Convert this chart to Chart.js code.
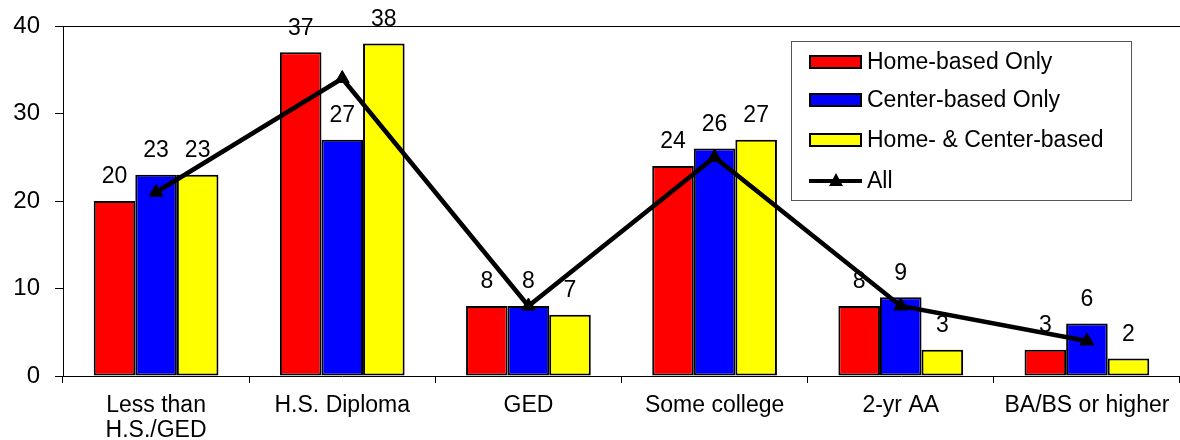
<!DOCTYPE html>
<html>
<head>
<meta charset="utf-8">
<script src="https://cdn.jsdelivr.net/npm/chart.js@4"></script>
<style>
  html, body { margin: 0; padding: 0; background: #fff; overflow: hidden; }
  #wrap { width: 1180px; height: 440px; }
</style>
</head>
<body>
<div id="wrap"><canvas id="eduChart" width="1180" height="440"></canvas></div>
<script>
const categories = [["Less than", "H.S./GED"], "H.S. Diploma", "GED", "Some college", "2-yr AA", "BA/BS or higher"];
const homeOnly = [20, 37, 8, 24, 8, 3];
const centerOnly = [23, 27, 8, 26, 9, 6];
const homeAndCenter = [23, 38, 7, 27, 3, 2];
const allFamilies = [21, 34, 8, 25, 8, 4];
const yTicks = [0, 10, 20, 30, 40];

const FONT = "'Liberation Sans', Arial, sans-serif";

document.addEventListener("DOMContentLoaded", () => {
  // value labels above the bars, drawn before the "All" line so it sits on top
  const barLabels = {
    id: "barLabels",
    afterDatasetDraw(chart, args) {
      if (args.meta.type !== "bar") return;
      const ctx = chart.ctx;
      const values = chart.data.datasets[args.index].data;
      ctx.save();
      ctx.font = "23px " + FONT;
      ctx.fillStyle = "#000";
      ctx.textAlign = "center";
      ctx.textBaseline = "middle";
      args.meta.data.forEach((bar, i) => {
        ctx.fillText(String(values[i]), bar.x, bar.y - 24);
      });
      ctx.restore();
    }
  };

  const boxLegend = {
    id: "boxLegend",
    afterDraw(chart) {
      const ctx = chart.ctx;
      const sets = chart.data.datasets;
      ctx.save();
      ctx.fillStyle = "#fff";
      ctx.fillRect(791, 41, 340, 159);
      ctx.strokeStyle = "#555";
      ctx.lineWidth = 1;
      ctx.strokeRect(791.5, 41.5, 340, 159);
      ctx.font = "23px " + FONT;
      ctx.textBaseline = "middle";
      ctx.textAlign = "left";
      const rows = [62, 100, 140, 181];
      sets.forEach((ds, i) => {
        const y = rows[i];
        if (ds.type === "line") {
          ctx.strokeStyle = "#000";
          ctx.lineWidth = 4;
          ctx.beginPath();
          ctx.moveTo(809, y);
          ctx.lineTo(862, y);
          ctx.stroke();
          ctx.fillStyle = "#000";
          ctx.beginPath();
          ctx.moveTo(836, y - 8);
          ctx.lineTo(843, y + 5);
          ctx.lineTo(829, y + 5);
          ctx.closePath();
          ctx.fill();
        } else {
          ctx.fillStyle = ds.backgroundColor;
          ctx.fillRect(810, y - 6, 51, 12);
          ctx.strokeStyle = "#000";
          ctx.lineWidth = 2;
          ctx.strokeRect(810, y - 6, 51, 12);
        }
        ctx.fillStyle = "#000";
        ctx.fillText(ds.label, 867, y + 1);
      });
      ctx.restore();
    }
  };

  const barStyle = { borderColor: "#000", borderWidth: 2, borderSkipped: false, order: 1 };

  new Chart(document.getElementById("eduChart"), {
    data: {
      labels: categories,
      datasets: [
        Object.assign({ type: "bar", label: "Home-based Only", data: homeOnly, backgroundColor: "#ff0000" }, barStyle),
        Object.assign({ type: "bar", label: "Center-based Only", data: centerOnly, backgroundColor: "#0000ff" }, barStyle),
        Object.assign({ type: "bar", label: "Home- & Center-based", data: homeAndCenter, backgroundColor: "#ffff00" }, barStyle),
        {
          type: "line",
          label: "All",
          data: allFamilies,
          borderColor: "#000",
          borderWidth: 4.5,
          backgroundColor: "#000",
          pointStyle: "triangle",
          pointRadius: 8,
          pointBorderWidth: 1,
          tension: 0,
          order: 0
        }
      ]
    },
    options: {
      responsive: false,
      animation: false,
      layout: { autoPadding: false, padding: { top: 26, right: -5, bottom: 0, left: 0 } },
      datasets: {
        bar: { categoryPercentage: 0.67, barPercentage: 1 }
      },
      plugins: {
        legend: { display: false },
        tooltip: { enabled: false }
      },
      scales: {
        x: {
          offset: true,
          grid: { offset: true, drawOnChartArea: false, color: "#000", tickLength: 7 },
          border: { color: "#000", width: 1 },
          ticks: { color: "#000", font: { family: FONT, size: 23, lineHeight: 1.1 }, padding: 10, maxRotation: 0, autoSkip: false },
          afterFit(scale) {
            scale.height = 64;
            scale.paddingLeft = 0;
            scale.paddingRight = 0;
          }
        },
        y: {
          min: 0,
          max: 40,
          afterBuildTicks(scale) { scale.ticks = yTicks.map(v => ({ value: v })); },
          grid: {
            color: c => (c.tick && c.tick.value === 40 ? "#000" : "rgba(0,0,0,0)"),
            tickColor: "#000",
            tickLength: 8
          },
          border: { color: "#000", width: 1 },
          ticks: { color: "#000", font: { family: FONT, size: 24 }, padding: 15 },
          afterFit(scale) {
            scale.width = 63;
            scale.paddingTop = 0;
            scale.paddingBottom = 0;
          }
        }
      }
    },
    plugins: [barLabels, boxLegend]
  });
});
</script>
</body>
</html>
